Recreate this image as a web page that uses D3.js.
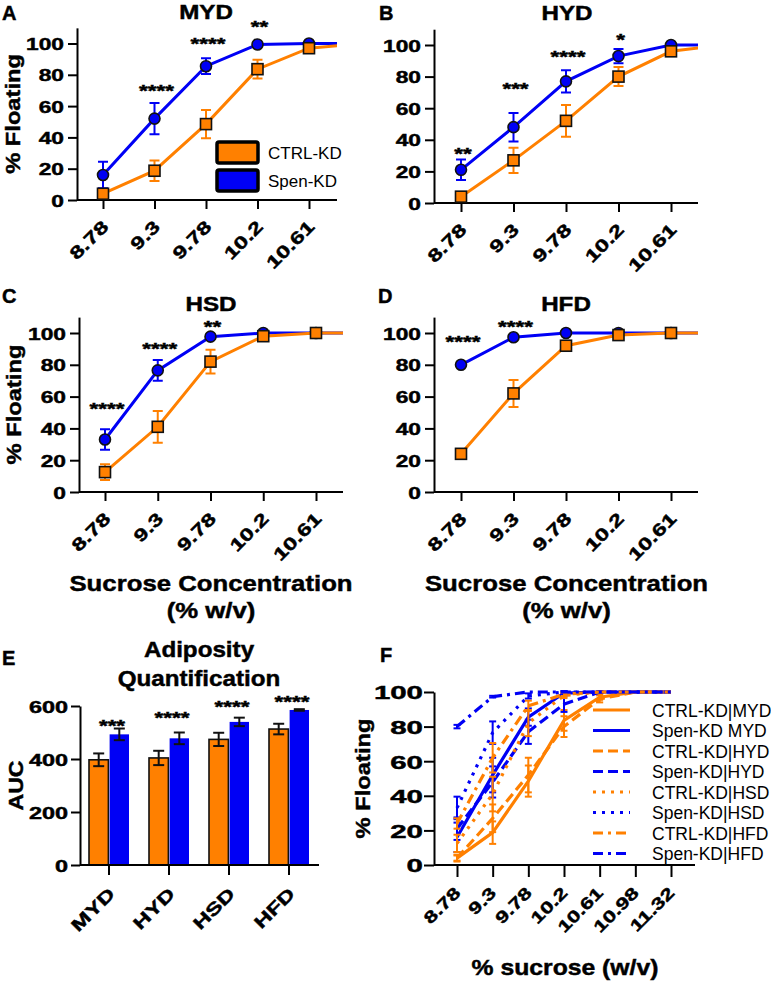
<!DOCTYPE html>
<html><head><meta charset="utf-8">
<script src="https://cdn.jsdelivr.net/npm/d3@7"></script>
<style>
body{margin:0;background:#fff}
svg{display:block}
text{font-family:"Liberation Sans",Arial,Helvetica,sans-serif}
text.b{stroke:#000;stroke-width:0.45px;paint-order:stroke}
</style>
</head><body>
<svg id="chart" width="771" height="983"></svg>
<script>
// ---------------- DATA ----------------
const sucrose = ["8.78","9.3","9.78","10.2","10.61","10.98","11.32"];
const sucroseShownAD = ["8.78","9.3","9.78","10.2","10.61"];
const diets = ["MYD","HYD","HSD","HFD"];
const groups = ["CTRL-KD","Spen-KD"];

const ctrlMYD    = [4, 18.7, 48.5, 83.6, 97, 100, 100];
const ctrlMYDerr = [2, 6.5, 9, 6, 1.5, 0, 0];
const spenMYD    = [16, 52, 85.5, 99.4, 100, 100, 100];
const spenMYDerr = [8.5, 10, 5, 1, 0.5, 0, 0];

const ctrlHYD    = [4, 27, 52, 80, 96, 100, 100];
const ctrlHYDerr = [1.5, 8, 10, 6, 2, 0, 0];
const spenHYD    = [21, 48, 77, 93, 100, 100, 100];
const spenHYDerr = [6.5, 9, 7, 4.5, 0.5, 0, 0];

const ctrlHSD    = [12.5, 41, 82, 98, 100, 100, 100];
const ctrlHSDerr = [5, 10, 7.5, 1.5, 0, 0, 0];
const spenHSD    = [33, 76.5, 97.7, 100, 100, 100, 100];
const spenHSDerr = [6.5, 6.5, 1.5, 0.5, 0, 0, 0];

const ctrlHFD    = [24, 62, 92, 98.7, 100, 100, 100];
const ctrlHFDerr = [3, 8.5, 3, 1, 0, 0, 0];
const spenHFD    = [80, 97.3, 100, 100, 100, 100, 100];
const spenHFDerr = [1, 0.5, 0, 0, 0, 0, 0];

// significance stars (label, height in % units)
const starsMYD  = ["", "****", "****", "**"];
const starYMYD  = [0, 72, 102, 113];
const starsHYD  = ["**", "***", "****", "*"];
const starYHYD  = [33.5, 74.7, 95, 106];
const starsHSD  = ["****", "****", "**"];
const starYHSD  = [54.7, 92.5, 106];
const starsHFD  = ["****", "****"];
const starYHFD  = [97, 106];

const floatTicks = [0, 20, 40, 60, 80, 100];

// AUC panel
const aucCtrl    = [397, 404, 474, 513];
const aucCtrlErr = [24, 27, 25, 20];
const aucSpen    = [493, 478, 540, 585];
const aucSpenErr = [22, 22, 16, 3];
const aucStars   = ["***", "****", "****", "****"];
const aucStarY   = [540, 570, 611, 630];
const aucTicks   = [0, 200, 400, 600];

const legendF = ["CTRL-KD|MYD","Spen-KD MYD","CTRL-KD|HYD","Spen-KD|HYD","CTRL-KD|HSD","Spen-KD|HSD","CTRL-KD|HFD","Spen-KD|HFD"];

// ---------------- DRAWING ----------------
const ORANGE = "#FF8000", BLUE = "#0000F5";
const FONT = "'Liberation Sans',Arial,sans-serif";
const svg = d3.select("#chart");

function label(g, x, y, s, o) {
  o = o || {};
  const bold = (o.weight || "bold") === "bold";
  return g.append("text")
    .attr("class", bold ? "b" : null)
    .attr("transform", `translate(${x},${y}) rotate(${o.rot||0}) scale(${o.sx||1},1)`)
    .attr("text-anchor", o.anchor || "middle")
    .style("font-size", (o.size||17) + "px")
    .style("font-weight", o.weight || "bold")
    .attr("fill", "#000")
    .text(s);
}

function styleAxis(ax) {
  ax.selectAll("path,line").attr("stroke", "#000").attr("stroke-width", 2);
}
function styleTickText(sel, size) {
  sel.attr("class", "b").style("font-size", size + "px").style("font-weight", "bold")
    .style("font-family", FONT).attr("fill", "#000");
}

function errorBars(g, xs, ys, vals, errs, color, cap) {
  vals.forEach((v, i) => {
    const e = errs[i];
    if (!e) return;
    const cx = xs(i);
    g.append("line").attr("x1", cx).attr("x2", cx).attr("y1", ys(v - e)).attr("y2", ys(v + e))
      .attr("stroke", color).attr("stroke-width", 2);
    [v - e, v + e].forEach(b => {
      g.append("line").attr("x1", cx - cap/2).attr("x2", cx + cap/2).attr("y1", ys(b)).attr("y2", ys(b))
        .attr("stroke", color).attr("stroke-width", 2);
    });
  });
}

let clipN = 0;
function curvePanel(p) {
  const g = svg.append("g");
  const x = d3.scalePoint().domain(sucrose).range([p.first, p.first + p.step * (sucrose.length - 1)]);
  const y = d3.scaleLinear().domain([0, 110]).range([p.y0, p.y0 - 110 * p.ppu]);

  const xa = g.append("g").attr("transform", `translate(0,${p.y0})`)
    .call(d3.axisBottom(x).tickValues(sucroseShownAD).tickSize(9).tickSizeOuter(0));
  xa.select(".domain").remove();
  xa.append("line").attr("x1", p.left).attr("x2", p.right).attr("y1", 0).attr("y2", 0);
  styleAxis(xa);
  const xt = xa.selectAll("text").attr("x", 0).attr("y", 0).attr("dy", null)
    .attr("transform", "translate(6,28) rotate(-45) scale(1.36,1)")
    .style("text-anchor", "end");
  styleTickText(xt, 17.5);

  const ya = g.append("g").attr("transform", `translate(${p.left},0)`)
    .call(d3.axisLeft(y).tickValues(floatTicks).tickSize(9).tickSizeOuter(0));
  styleAxis(ya);
  const yt = ya.selectAll("text").attr("x", 0).attr("dy", "0.36em")
    .attr("transform", "translate(-13,0) scale(1.34,1)");
  styleTickText(yt, 17);

  const id = "clip" + (clipN++);
  g.append("clipPath").attr("id", id).append("rect")
    .attr("x", p.left).attr("y", p.y0 - 140 * p.ppu).attr("width", p.right - p.left).attr("height", 160 * p.ppu);
  const dg = g.append("g").attr("clip-path", `url(#${id})`);
  const xi = i => x(sucrose[i]);
  const line = d3.line().x((d, i) => xi(i)).y(d => y(d));

  [[p.spen, p.spenErr, BLUE, "circle"], [p.ctrl, p.ctrlErr, ORANGE, "square"]].forEach(([v, e, c, shape]) => {
    dg.append("path").attr("d", line(v)).attr("fill", "none").attr("stroke", c).attr("stroke-width", 3);
    errorBars(dg, xi, y, v, e, c, 10);
    v.forEach((d, i) => {
      if (shape === "circle") {
        dg.append("circle").attr("cx", xi(i)).attr("cy", y(d)).attr("r", 5.5)
          .attr("fill", c).attr("stroke", "#111").attr("stroke-width", 1.6);
      } else {
        dg.append("rect").attr("x", xi(i) - 5.5).attr("y", y(d) - 5.5).attr("width", 11).attr("height", 11)
          .attr("fill", c).attr("stroke", "#111").attr("stroke-width", 1.6);
      }
    });
  });

  p.stars.forEach((s, i) => {
    if (!s) return;
    label(g, xi(i) + 2, y(p.starY[i]) + 10, s, {size: 17, sx: 1.32});
  });

  label(g, p.titleX, p.titleY, p.title, {size: 19.5, sx: 1.24});
  label(g, p.letterX, p.letterY, p.letter, {size: 20, anchor: "start"});
  if (p.ylabel) {
    label(g, p.ylabelX, (y(0) + y(110)) / 2, "% Floating", {size: 21, sx: 1.13, rot: -90});
  }
  return {g, x, y};
}

curvePanel({left: 77, first: 103, step: 51.5, right: 337, y0: 200, ppu: 1.565,
  ctrl: ctrlMYD, ctrlErr: ctrlMYDerr, spen: spenMYD, spenErr: spenMYDerr,
  stars: starsMYD, starY: starYMYD, title: "MYD", titleX: 206, titleY: 19,
  letter: "A", letterX: 2, letterY: 20, ylabel: true, ylabelX: 20});
curvePanel({left: 434, first: 461, step: 52.5, right: 698, y0: 203, ppu: 1.58,
  ctrl: ctrlHYD, ctrlErr: ctrlHYDerr, spen: spenHYD, spenErr: spenHYDerr,
  stars: starsHYD, starY: starYHYD, title: "HYD", titleX: 567, titleY: 20,
  letter: "B", letterX: 379, letterY: 20, ylabel: false});
curvePanel({left: 79, first: 105, step: 52.75, right: 343, y0: 492, ppu: 1.59,
  ctrl: ctrlHSD, ctrlErr: ctrlHSDerr, spen: spenHSD, spenErr: spenHSDerr,
  stars: starsHSD, starY: starYHSD, title: "HSD", titleX: 211, titleY: 311,
  letter: "C", letterX: 2, letterY: 303, ylabel: true, ylabelX: 21});
curvePanel({left: 434, first: 461, step: 52.5, right: 698, y0: 492, ppu: 1.59,
  ctrl: ctrlHFD, ctrlErr: ctrlHFDerr, spen: spenHFD, spenErr: spenHFDerr,
  stars: starsHFD, starY: starYHFD, title: "HFD", titleX: 566, titleY: 311,
  letter: "D", letterX: 378, letterY: 303, ylabel: false});

// legend in A
[[ORANGE, "CTRL-KD", 142], [BLUE, "Spen-KD", 170]].forEach(([c, t, yy]) => {
  svg.append("rect").attr("x", 217).attr("y", yy).attr("width", 41).attr("height", 21).attr("rx", 2)
    .attr("fill", c).attr("stroke", "#000").attr("stroke-width", 3.5);
  label(svg, 268, yy + 16.5, t, {size: 17, weight: "normal", anchor: "start"});
});

// x-axis titles under C and D
[211, 566.5].forEach(cx => {
  label(svg, cx, 591, "Sucrose Concentration", {size: 22, sx: 1.17});
  label(svg, cx, 618, "(% w/v)", {size: 22, sx: 1.17});
});

// ---------------- Panel E ----------------
(function () {
  const g = svg.append("g");
  const x0 = d3.scaleBand().domain(diets).range([79, 319]);
  const x1 = d3.scaleBand().domain(groups).range([-20, 20]).paddingInner(0.06);
  const y = d3.scaleLinear().domain([0, 600]).range([865, 706]);

  const cx = (d, grp) => x0(d) + x0.bandwidth() / 2 + x1(grp);
  diets.forEach((d, i) => {
    g.append("rect").attr("x", cx(d, "CTRL-KD")).attr("y", y(aucCtrl[i]))
      .attr("width", x1.bandwidth()).attr("height", y(0) - y(aucCtrl[i]))
      .attr("fill", ORANGE).attr("stroke", "#111").attr("stroke-width", 1.6);
    g.append("rect").attr("x", cx(d, "Spen-KD")).attr("y", y(aucSpen[i]))
      .attr("width", x1.bandwidth()).attr("height", y(0) - y(aucSpen[i]))
      .attr("fill", BLUE);
  });
  errorBars(g, i => cx(diets[i], "CTRL-KD") + x1.bandwidth() / 2, y, aucCtrl, aucCtrlErr, "#111", 11);
  errorBars(g, i => cx(diets[i], "Spen-KD") + x1.bandwidth() / 2, y, aucSpen, aucSpenErr, "#111", 11);

  const xa = g.append("g").attr("transform", "translate(0,865)")
    .call(d3.axisBottom(x0).tickSize(10).tickSizeOuter(0));
  styleAxis(xa);
  xa.select(".domain").attr("d", "M80,0H319");
  const xt = xa.selectAll("text").attr("x", 0).attr("y", 0).attr("dy", null)
    .attr("transform", "translate(7,30) rotate(-45) scale(1.37,1)")
    .style("text-anchor", "end");
  styleTickText(xt, 17.5);

  const ya = g.append("g").attr("transform", "translate(80,0)")
    .call(d3.axisLeft(y).tickValues(aucTicks).tickSize(9).tickSizeOuter(0));
  styleAxis(ya);
  const yt = ya.selectAll("text").attr("x", 0).attr("dy", "0.36em")
    .attr("transform", "translate(-12,0) scale(1.38,1)");
  styleTickText(yt, 17);

  aucStars.forEach((s, i) => {
    label(g, x0(diets[i]) + x0.bandwidth() / 2 + 3, y(aucStarY[i]) + 10, s, {size: 17, sx: 1.32});
  });

  label(g, 199, 657, "Adiposity", {size: 22, sx: 1.1});
  label(g, 199, 686, "Quantification", {size: 22, sx: 1.1});
  label(g, 2, 665, "E", {size: 20, anchor: "start"});
  label(g, 23, (y(0) + y(600)) / 2, "AUC", {size: 21, sx: 1.1, rot: -90});
})();

// ---------------- Panel F ----------------
(function () {
  const g = svg.append("g");
  const x = d3.scalePoint().domain(sucrose).range([457, 671]);
  const y = d3.scaleLinear().domain([0, 100]).range([865, 692]);

  const xa = g.append("g").attr("transform", "translate(0,865)")
    .call(d3.axisBottom(x).tickSize(12).tickSizeOuter(0));
  xa.select(".domain").remove();
  xa.append("line").attr("x1", 434).attr("x2", 695).attr("y1", 0).attr("y2", 0);
  styleAxis(xa);
  const xt = xa.selectAll("text").attr("x", 0).attr("y", 0).attr("dy", null)
    .attr("transform", "translate(4,29) rotate(-45) scale(1.36,1)")
    .style("text-anchor", "end");
  styleTickText(xt, 16.5);

  const ya = g.append("g").attr("transform", "translate(434,0)")
    .call(d3.axisLeft(y).tickValues(floatTicks).tickSize(10).tickSizeOuter(0));
  styleAxis(ya);
  const yt = ya.selectAll("text").attr("x", 0).attr("dy", "0.36em")
    .attr("transform", "translate(-11,0) scale(1.55,1)");
  styleTickText(yt, 19);

  const dashes = [null, null, "10,5", "10,5", "3,6", "3,6", "10,5,3,5", "10,5,3,5"];
  const series = [
    [ctrlMYD, ctrlMYDerr, ORANGE], [spenMYD, spenMYDerr, BLUE],
    [ctrlHYD, ctrlHYDerr, ORANGE], [spenHYD, spenHYDerr, BLUE],
    [ctrlHSD, ctrlHSDerr, ORANGE], [spenHSD, spenHSDerr, BLUE],
    [ctrlHFD, ctrlHFDerr, ORANGE], [spenHFD, spenHFDerr, BLUE]
  ];
  const xi = i => x(sucrose[i]);
  const line = d3.line().x((d, i) => xi(i)).y(d => y(d));
  series.forEach(([v, e, c], k) => {
    g.append("path").attr("d", line(v)).attr("fill", "none").attr("stroke", c).attr("stroke-width", 3.2)
      .attr("stroke-dasharray", dashes[k]);
    errorBars(g, xi, y, v, e, c, 7);
  });

  legendF.forEach((t, k) => {
    const yy = 710 + k * 20.5;
    g.append("line").attr("x1", 593).attr("x2", 630).attr("y1", yy).attr("y2", yy)
      .attr("stroke", series[k][2]).attr("stroke-width", 3.2).attr("stroke-dasharray", dashes[k]);
    label(g, 652, yy + 6.5, t, {size: 17.5, weight: "normal", anchor: "start"});
  });

  label(g, 380, 662, "F", {size: 20, anchor: "start"});
  label(g, 370, (y(0) + y(100)) / 2, "% Floating", {size: 21, sx: 1.13, rot: -90});
  label(g, 565, 975, "% sucrose (w/v)", {size: 21.5, sx: 1.15});
})();
</script>
</body></html>
